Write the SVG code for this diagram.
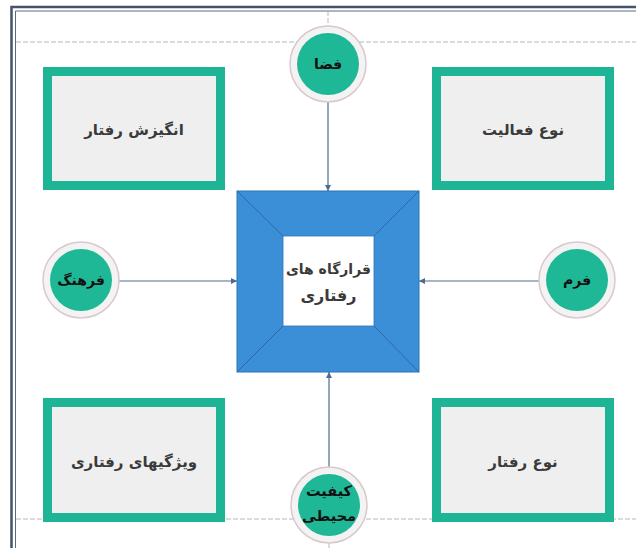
<svg xmlns="http://www.w3.org/2000/svg" width="636" height="548" viewBox="0 0 636 548">
<style>
.box{fill:#efefef;stroke:#1db595;stroke-width:9}
.ring{fill:#f3f3f3;stroke:#d9c9cb;stroke-width:1.5}
.dot{fill:#1fb896}
.lbl{font-family:"DejaVu Sans",sans-serif;font-weight:bold;font-size:15px;fill:#3a3a3a;text-anchor:middle}
.clbl{font-family:"DejaVu Sans",sans-serif;font-weight:bold;font-size:14px;fill:#111;text-anchor:middle}
.dash{stroke:#b8b8b8;stroke-width:1;stroke-dasharray:5 2;fill:none}
.conn{stroke:#4d6e8e;stroke-width:1.2;fill:none;marker-end:url(#arr)}
</style>
<defs>
<marker id="arr" viewBox="0 0 10 10" refX="10" refY="5" markerWidth="6" markerHeight="6" orient="auto" markerUnits="userSpaceOnUse">
<path d="M0,0 L10,5 L0,10 z" fill="#4d6e8e"/>
</marker>
</defs>
<rect width="636" height="548" fill="#ffffff"/>
<g id="frame">
<path d="M11.5,548 V7 H636" fill="none" stroke="#44546a" stroke-width="2.5"/>
<path d="M15.5,548 V11 H636" fill="none" stroke="#5a6a80" stroke-width="1"/>
</g>
<g id="guides">
<line class="dash" x1="16" y1="42" x2="636" y2="42"/>
<line class="dash" x1="16" y1="519" x2="636" y2="519"/>
<line class="dash" x1="328" y1="11" x2="328" y2="26"/>
<line class="dash" x1="329" y1="543" x2="329" y2="548"/>
</g>
<g id="connectors">
<line class="conn" x1="328" y1="102" x2="328" y2="191"/>
<line class="conn" x1="119" y1="281" x2="237" y2="281"/>
<line class="conn" x1="539" y1="281" x2="419" y2="281"/>
<line class="conn" x1="329" y1="467" x2="329" y2="372"/>
</g>
<g id="center">
<rect x="237" y="191" width="182" height="181" fill="#3b8fd7" stroke="#2d74b8" stroke-width="1"/>
<path d="M237,191 L283,236 M419,191 L374,236 M237,372 L283,326 M419,372 L374,326" stroke="#2a6aaa" stroke-width="1"/>
<rect x="283" y="236" width="91" height="90" fill="#ffffff" stroke="#2d74b8" stroke-width="0.8"/>
<text class="lbl" x="328.5" y="274" style="font-size:14px">قرارگاه های</text>
<text class="lbl" x="328.5" y="301" style="font-size:16px">رفتاری</text>
</g>
<g id="box-tl">
<rect class="box" x="47.5" y="71.5" width="173" height="114"/>
<text class="lbl" x="134" y="135">انگیزش رفتار</text>
</g>
<g id="box-tr">
<rect class="box" x="436.5" y="71.5" width="173" height="114"/>
<text class="lbl" x="523" y="135">نوع فعالیت</text>
</g>
<g id="box-bl">
<rect class="box" x="47.5" y="402.5" width="173" height="115"/>
<text class="lbl" x="134" y="467">ویژگیهای رفتاری</text>
</g>
<g id="box-br">
<rect class="box" x="436.5" y="402.5" width="173" height="115"/>
<text class="lbl" x="523" y="467">نوع رفتار</text>
</g>
<g id="c-top">
<circle class="ring" cx="328" cy="64" r="38"/>
<circle class="dot" cx="328" cy="64" r="31"/>
<text class="clbl" x="328" y="69">فضا</text>
</g>
<g id="c-left">
<circle class="ring" cx="81" cy="280" r="38"/>
<circle class="dot" cx="81" cy="280" r="31"/>
<text class="clbl" x="81" y="285">فرهنگ</text>
</g>
<g id="c-right">
<circle class="ring" cx="577" cy="280" r="38"/>
<circle class="dot" cx="577" cy="280" r="31"/>
<text class="clbl" x="577" y="285">فرم</text>
</g>
<g id="c-bottom">
<circle class="ring" cx="329" cy="505" r="38"/>
<circle class="dot" cx="329" cy="505" r="31"/>
<text class="clbl" x="329" y="496" style="font-size:14.5px">کیفیت</text>
<text class="clbl" x="329" y="521" style="font-size:14.5px">محیطی</text>
</g>
</svg>
